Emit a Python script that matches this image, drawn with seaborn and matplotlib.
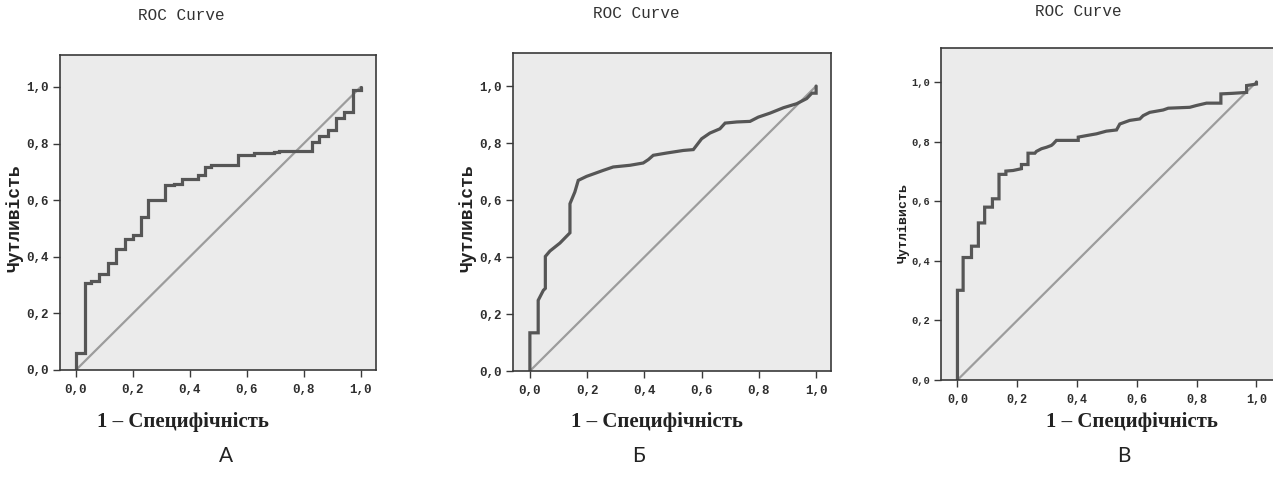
import numpy as np
import pandas as pd
import matplotlib
matplotlib.use("Agg")
import matplotlib.pyplot as plt
import seaborn as sns

# ---------------- data (ROC vertices) ----------------
fpr_a = [0.0, 0.0, 0.032, 0.032, 0.053, 0.053, 0.082, 0.082, 0.112, 0.112, 0.142, 0.142,
         0.172, 0.172, 0.200, 0.200, 0.229, 0.229, 0.252, 0.252, 0.314, 0.314, 0.344, 0.344,
         0.371, 0.371, 0.429, 0.429, 0.455, 0.455, 0.476, 0.476, 0.571, 0.571, 0.626, 0.626,
         0.696, 0.696, 0.714, 0.714, 0.829, 0.829, 0.855, 0.855, 0.885, 0.885, 0.912, 0.912,
         0.940, 0.940, 0.973, 0.973, 1.0, 1.0]
tpr_a = [0.0, 0.059, 0.059, 0.307, 0.307, 0.314, 0.314, 0.338, 0.338, 0.378, 0.378, 0.426,
         0.426, 0.463, 0.463, 0.476, 0.476, 0.539, 0.539, 0.600, 0.600, 0.652, 0.652, 0.657,
         0.657, 0.674, 0.674, 0.689, 0.689, 0.718, 0.718, 0.723, 0.723, 0.759, 0.759, 0.765,
         0.765, 0.771, 0.771, 0.773, 0.773, 0.805, 0.805, 0.827, 0.827, 0.848, 0.848, 0.890,
         0.890, 0.911, 0.911, 0.991, 0.991, 1.0]

fpr_b = [0.0, 0.0, 0.029, 0.029, 0.047, 0.054, 0.054, 0.070, 0.105, 0.140, 0.140, 0.157,
         0.169, 0.198, 0.256, 0.291, 0.350, 0.396, 0.414, 0.431, 0.478, 0.536, 0.571, 0.600,
         0.629, 0.664, 0.682, 0.723, 0.769, 0.798, 0.839, 0.886, 0.932, 0.967, 0.985, 1.0, 1.0]
tpr_b = [0.0, 0.134, 0.134, 0.248, 0.283, 0.290, 0.402, 0.421, 0.449, 0.485, 0.587, 0.628,
         0.669, 0.683, 0.704, 0.716, 0.722, 0.730, 0.742, 0.757, 0.765, 0.774, 0.777, 0.815,
         0.835, 0.850, 0.870, 0.874, 0.876, 0.891, 0.905, 0.924, 0.938, 0.956, 0.975, 0.975, 1.0]

fpr_c = [0.0, 0.0, 0.019, 0.019, 0.047, 0.047, 0.070, 0.070, 0.091, 0.091, 0.117, 0.117,
         0.139, 0.139, 0.162, 0.162, 0.186, 0.214, 0.214, 0.236, 0.236, 0.259, 0.264, 0.281,
         0.298, 0.314, 0.320, 0.331, 0.404, 0.404, 0.431, 0.465, 0.498, 0.532, 0.543, 0.576,
         0.610, 0.621, 0.643, 0.688, 0.705, 0.777, 0.799, 0.833, 0.881, 0.881, 0.922, 0.967,
         0.967, 1.0, 1.0]
tpr_c = [0.0, 0.301, 0.301, 0.411, 0.411, 0.449, 0.449, 0.527, 0.527, 0.580, 0.580, 0.608,
         0.608, 0.690, 0.690, 0.701, 0.703, 0.709, 0.723, 0.723, 0.761, 0.761, 0.767, 0.776,
         0.781, 0.787, 0.792, 0.804, 0.804, 0.815, 0.820, 0.826, 0.835, 0.839, 0.859, 0.871,
         0.876, 0.887, 0.898, 0.906, 0.912, 0.915, 0.921, 0.929, 0.929, 0.960, 0.962, 0.965,
         0.988, 0.993, 1.0]

diag = [0.0, 1.0]
tick_vals = [0.0, 0.2, 0.4, 0.6, 0.8, 1.0]
tick_labels = ["0,0", "0,2", "0,4", "0,6", "0,8", "1,0"]
title = "ROC Curve"
xlabel = "1 – Специфічність"
ylabels = ["Чутливість", "Чутливість", "Чутлівисть"]
letters = ["А", "Б", "В"]

# ---------------- style ----------------
sns.set_theme(style="white")
plt.rcParams["font.family"] = ["Liberation Mono", "DejaVu Sans"]

BG = "#ebebeb"
CURVE = "#565656"
DIAG = "#9c9c9c"
SPINE = "#3a3a3a"

fig = plt.figure(figsize=(12.73, 4.79), dpi=100)
W, H = 1273.0, 479.0

def px_axes(x0, y0, x1, y1):
    return fig.add_axes([x0 / W, (H - y1) / H, (x1 - x0) / W, (y1 - y0) / H])

panels = [
    dict(box=(60, 55, 376, 370), xlim=(-0.056, 1.054), ytop=1.113,
         fpr=fpr_a, tpr=tpr_a, yfs=9, xfs=9,
         title=(181, 16), xl=(183, 422), let=(226, 456), yl=(15, 218), ylfs=13),
    dict(box=(513, 53, 831, 371), xlim=(-0.059, 1.052), ytop=1.116,
         fpr=fpr_b, tpr=tpr_b, yfs=9, xfs=9,
         title=(636, 14), xl=(657, 422), let=(639, 456), yl=(468, 218), ylfs=13),
    dict(box=(941, 48, 1275, 380), xlim=(-0.055, 1.062), ytop=1.114,
         fpr=fpr_c, tpr=tpr_c, yfs=7.5, xfs=8.5,
         title=(1078, 12), xl=(1132, 422), let=(1124, 456), yl=(904, 223), ylfs=9.5),
]

for i, p in enumerate(panels):
    ax = px_axes(*p["box"])
    ax.set_facecolor(BG)
    df = pd.DataFrame({"fpr": p["fpr"], "tpr": p["tpr"]})
    dd = pd.DataFrame({"x": diag, "y": diag})
    sns.lineplot(data=dd, x="x", y="y", ax=ax, color=DIAG, lw=1.6,
                 estimator=None, sort=False)
    sns.lineplot(data=df, x="fpr", y="tpr", ax=ax, color=CURVE, lw=2.3,
                 estimator=None, sort=False, solid_joinstyle="miter")
    ax.set_xlim(*p["xlim"])
    ax.set_ylim(0, p["ytop"])
    ax.set_xticks(tick_vals)
    ax.set_yticks(tick_vals)
    ax.set_xticklabels(tick_labels, fontsize=p["xfs"], fontweight="bold", color="#2e2e2e")
    ax.set_yticklabels(tick_labels, fontsize=p["yfs"], fontweight="bold", color="#2e2e2e")
    ax.tick_params(axis="both", direction="out", length=5, width=1, color=SPINE,
                   bottom=True, left=True)
    ax.tick_params(axis="y", pad=3)
    ax.tick_params(axis="x", pad=5)
    ax.set_xlabel("")
    ax.set_ylabel("")
    for s in ["left", "bottom", "top", "right"]:
        ax.spines[s].set_visible(True)
        ax.spines[s].set_color(SPINE)
        ax.spines[s].set_linewidth(1.2)
    if i == 2:
        ax.spines["right"].set_visible(False)

    fig.text(p["title"][0] / W, 1 - p["title"][1] / H, title, ha="center", va="center",
             fontsize=11.5, color="#333333", family=["Liberation Mono", "DejaVu Sans"])
    fig.text(p["xl"][0] / W, 1 - p["xl"][1] / H, xlabel, ha="center", va="center",
             fontsize=15, fontweight="bold", color="#222222",
             family=["Liberation Serif", "DejaVu Serif"])
    fig.text(p["let"][0] / W, 1 - p["let"][1] / H, letters[i], ha="center", va="center",
             fontsize=15, color="#222222", family=["Lato", "DejaVu Sans"])
    fig.text(p["yl"][0] / W, 1 - p["yl"][1] / H, ylabels[i], ha="center", va="center",
             rotation=90, fontsize=p["ylfs"], fontweight="bold", color="#222222",
             family=["Liberation Mono", "DejaVu Sans"])

fig.savefig("out.png", dpi=100, facecolor="white")
